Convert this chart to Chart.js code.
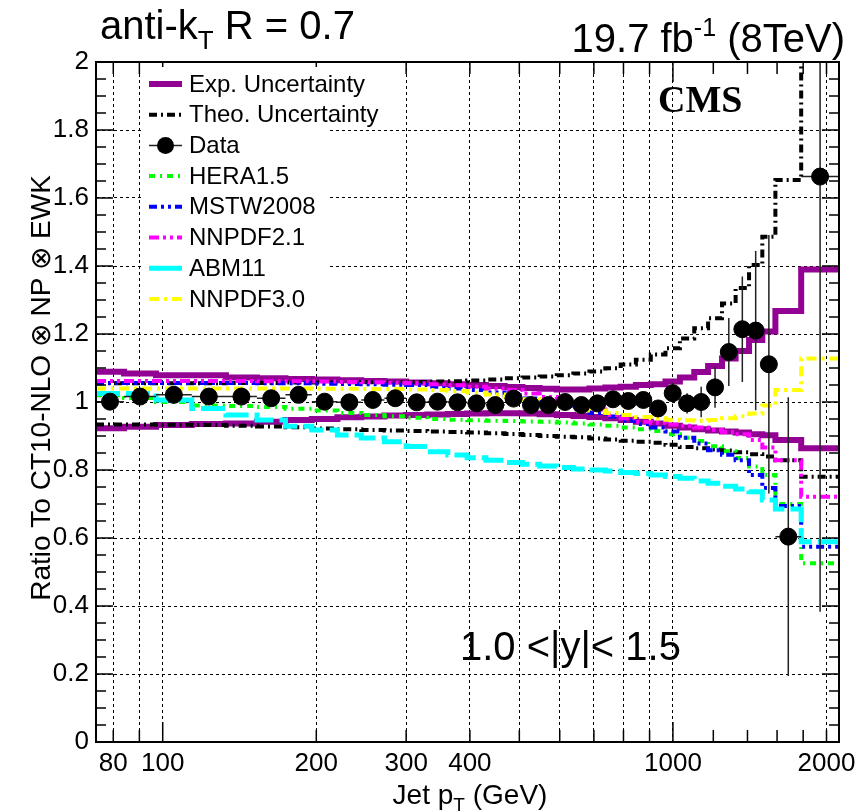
<!DOCTYPE html>
<html>
<head>
<meta charset="utf-8">
<title>Inclusive jet ratio to CT10</title>
<script src="https://cdn.jsdelivr.net/npm/chart.js@4.4.1/dist/chart.umd.min.js"></script>
<style>
  html, body { margin: 0; padding: 0; background: #fff; }
  canvas { display: block; }
</style>
</head>
<body>
<canvas id="ratio" width="865" height="812"></canvas>
<script>
// jet pT bin edges in GeV (last bins merged)
const binEdges = [74, 84, 97, 114, 133, 153, 174, 196, 220, 245, 272, 300, 330, 362, 395, 430,
  468, 507, 548, 592, 638, 686, 737, 790, 846, 905, 967, 1032, 1101, 1172, 1248, 1327, 1410,
  1497, 1588, 1784, 2116];

// measured ratio and its uncertainty, one value per bin
const dataRatio = [1.001, 1.016, 1.021, 1.016, 1.016, 1.011, 1.021, 1.001, 0.999, 1.006, 1.011,
  0.999, 1.001, 0.999, 0.996, 0.991, 1.010, 0.991, 0.991, 1.000, 0.991, 0.996, 1.008, 1.003,
  1.006, 0.981, 1.026, 0.996, 1.000, 1.043, 1.147, 1.214, 1.210, 1.111, 0.604, 1.663];
const dataErr = [0.005, 0.005, 0.005, 0.005, 0.005, 0.005, 0.005, 0.005, 0.005, 0.005, 0.006,
  0.006, 0.006, 0.007, 0.007, 0.008, 0.008, 0.009, 0.010, 0.010, 0.011, 0.012, 0.013, 0.014,
  0.020, 0.025, 0.030, 0.030, 0.045, 0.060, 0.100, 0.155, 0.234, 0.380, 0.410, 1.280];

// experimental uncertainty band edges
const expUp = [1.089, 1.084, 1.079, 1.079, 1.072, 1.070, 1.068, 1.066, 1.064, 1.062, 1.060, 1.057,
  1.055, 1.052, 1.050, 1.047, 1.044, 1.041, 1.039, 1.037, 1.037, 1.040, 1.043, 1.045, 1.050,
  1.052, 1.060, 1.072, 1.088, 1.106, 1.128, 1.150, 1.182, 1.207, 1.268, 1.390];
const expDown = [0.923, 0.927, 0.932, 0.935, 0.937, 0.942, 0.947, 0.950, 0.955, 0.957, 0.960,
  0.962, 0.963, 0.965, 0.966, 0.967, 0.967, 0.966, 0.964, 0.962, 0.959, 0.956, 0.952, 0.947,
  0.942, 0.937, 0.930, 0.925, 0.920, 0.916, 0.913, 0.910, 0.905, 0.902, 0.888, 0.864];

// theory uncertainty band edges
const theoUp = [1.055, 1.055, 1.055, 1.055, 1.056, 1.056, 1.057, 1.057, 1.058, 1.058, 1.059,
  1.059, 1.060, 1.061, 1.063, 1.066, 1.070, 1.072, 1.075, 1.079, 1.084, 1.090, 1.099, 1.110,
  1.124, 1.140, 1.158, 1.187, 1.217, 1.246, 1.290, 1.335, 1.403, 1.486, 1.653, 2.500];
const theoDown = [0.934, 0.934, 0.933, 0.932, 0.930, 0.928, 0.926, 0.922, 0.920, 0.918, 0.916,
  0.915, 0.913, 0.912, 0.910, 0.908, 0.906, 0.903, 0.900, 0.898, 0.896, 0.893, 0.890, 0.886,
  0.883, 0.880, 0.874, 0.868, 0.864, 0.860, 0.857, 0.852, 0.846, 0.840, 0.829, 0.780];

// other PDF sets divided by CT10
const hera15 = [1.020, 1.012, 1.000, 0.990, 0.988, 0.985, 0.980, 0.975, 0.968, 0.962, 0.958,
  0.954, 0.950, 0.948, 0.946, 0.945, 0.944, 0.943, 0.942, 0.940, 0.937, 0.934, 0.930, 0.925,
  0.920, 0.915, 0.905, 0.895, 0.885, 0.870, 0.855, 0.835, 0.810, 0.785, 0.700, 0.526];
const mstw2008 = [1.056, 1.056, 1.056, 1.056, 1.056, 1.055, 1.055, 1.054, 1.053, 1.052, 1.051,
  1.050, 1.045, 1.040, 1.035, 1.028, 1.020, 1.010, 1.000, 0.990, 0.980, 0.968, 0.957, 0.945,
  0.935, 0.925, 0.913, 0.895, 0.878, 0.858, 0.845, 0.829, 0.785, 0.747, 0.694, 0.574];
const nnpdf21 = [1.062, 1.062, 1.062, 1.062, 1.062, 1.061, 1.061, 1.060, 1.059, 1.058, 1.057,
  1.055, 1.052, 1.049, 1.045, 1.040, 1.035, 1.025, 1.015, 1.005, 0.990, 0.978, 0.962, 0.952,
  0.942, 0.938, 0.934, 0.930, 0.925, 0.918, 0.912, 0.905, 0.888, 0.866, 0.829, 0.721];
const abm11 = [1.025, 1.025, 1.006, 0.981, 0.962, 0.947, 0.929, 0.918, 0.903, 0.894, 0.883,
  0.869, 0.854, 0.844, 0.836, 0.829, 0.822, 0.817, 0.812, 0.807, 0.803, 0.800, 0.797, 0.793,
  0.790, 0.785, 0.781, 0.776, 0.768, 0.761, 0.752, 0.744, 0.736, 0.712, 0.685, 0.589];
const nnpdf30 = [1.040, 1.040, 1.040, 1.040, 1.040, 1.040, 1.040, 1.039, 1.039, 1.038, 1.038,
  1.037, 1.035, 1.032, 1.028, 1.022, 1.015, 1.008, 1.000, 0.990, 0.982, 0.975, 0.968, 0.962,
  0.956, 0.952, 0.948, 0.946, 0.945, 0.947, 0.952, 0.958, 0.966, 0.990, 1.035, 1.128];

// axis ticks
const xTicks = [80, 90, 100, 200, 300, 400, 500, 600, 700, 800, 900, 1000, 1200, 1400, 1600, 1800, 2000];
const xTickText = ['80', '', '100', '200', '300', '400', '', '', '', '', '', '1000', '', '', '', '', '2000'];
const xGridAt = [80, 90, 100, 200, 300, 400, 500, 600, 700, 800, 900, 1000, 2000];
const xMajorTicks = [100, 1000];
const yLabelStep = 0.2;
const yMinorStep = 0.05;

const legendOrder = ['Exp. Uncertainty', 'Theo. Uncertainty', 'Data', 'HERA1.5', 'MSTW2008',
  'NNPDF2.1', 'ABM11', 'NNPDF3.0'];

const FONT = "'Liberation Sans', Arial, Helvetica, sans-serif";
const MARKER_R = 8.5;

const binCenter = i => Math.sqrt(binEdges[i] * binEdges[i + 1]);

// histogram outline: each bin becomes a flat segment from low to high edge
function stepPoints(values) {
  const pts = [];
  values.forEach((v, i) => {
    pts.push({ x: binEdges[i], y: v });
    pts.push({ x: binEdges[i + 1], y: v });
  });
  return pts;
}

function stepLine(label, values, color, width, dash, order) {
  return {
    label,
    data: stepPoints(values),
    borderColor: color,
    borderWidth: width,
    borderDash: dash,
    borderCapStyle: 'butt',
    borderJoinStyle: 'miter',
    pointRadius: 0,
    fill: false,
    tension: 0,
    clip: 0,
    order
  };
}

const datasets = [
  {
    type: 'scatter',
    label: 'Data',
    data: dataRatio.map((v, i) => ({ x: binCenter(i), y: v })),
    pointRadius: MARKER_R,
    pointBackgroundColor: '#000',
    pointBorderColor: '#000',
    showLine: false,
    clip: 0,
    order: 0
  },
  stepLine('NNPDF3.0', nnpdf30, '#ffff00', 4, [10, 5, 3, 5], 1),
  stepLine('ABM11', abm11, '#00ffff', 5, [24, 6], 2),
  stepLine('NNPDF2.1', nnpdf21, '#ff00ff', 4, [10, 4, 3, 4, 3, 4], 3),
  stepLine('MSTW2008', mstw2008, '#0000ff', 4, [8, 4, 3, 4, 3, 4], 4),
  stepLine('HERA1.5', hera15, '#00ff00', 4, [6, 5, 2, 5], 5),
  stepLine('Theo. Uncertainty', theoUp, '#000000', 4, [8, 4, 2, 4], 6),
  stepLine('Theo. Uncertainty (low)', theoDown, '#000000', 4, [8, 4, 2, 4], 6),
  stepLine('Exp. Uncertainty', expUp, '#930393', 6, [], 7),
  stepLine('Exp. Uncertainty (low)', expDown, '#930393', 6, [], 7)
];

// data error bars sit under the markers
const errorBars = {
  id: 'errorBars',
  beforeDatasetDraw(chart, args) {
    if (chart.data.datasets[args.index].label !== 'Data') return;
    const { ctx, chartArea: a, scales: { x, y } } = chart;
    ctx.save();
    ctx.beginPath();
    ctx.rect(a.left, a.top, a.right - a.left, a.bottom - a.top);
    ctx.clip();
    ctx.strokeStyle = '#222';
    ctx.lineWidth = 1.5;
    dataRatio.forEach((v, i) => {
      const px = x.getPixelForValue(binCenter(i));
      const py = y.getPixelForValue(v);
      ctx.beginPath();
      ctx.moveTo(x.getPixelForValue(binEdges[i]), py);
      ctx.lineTo(x.getPixelForValue(binEdges[i + 1]), py);
      ctx.moveTo(px, y.getPixelForValue(v - dataErr[i]));
      ctx.lineTo(px, y.getPixelForValue(v + dataErr[i]));
      ctx.stroke();
    });
    ctx.restore();
  }
};

// ROOT-like frame with inward ticks on all four sides
const frameTicks = {
  id: 'frameTicks',
  afterDatasetsDraw(chart) {
    const { ctx, chartArea: a, scales: { x, y } } = chart;
    ctx.save();
    ctx.strokeStyle = '#000';
    ctx.lineWidth = 1.5;
    ctx.beginPath();
    const nMinor = Math.round((y.max - y.min) / yMinorStep);
    const perMajor = Math.round(yLabelStep / yMinorStep);
    for (let k = 0; k <= nMinor; k++) {
      const py = y.getPixelForValue(y.min + k * yMinorStep);
      const len = k % perMajor === 0 ? 17 : 10;
      ctx.moveTo(a.left, py); ctx.lineTo(a.left + len, py);
      ctx.moveTo(a.right, py); ctx.lineTo(a.right - len, py);
    }
    xTicks.forEach(v => {
      const px = x.getPixelForValue(v);
      const len = xMajorTicks.includes(v) ? 20 : 12;
      ctx.moveTo(px, a.bottom); ctx.lineTo(px, a.bottom - len);
      ctx.moveTo(px, a.top); ctx.lineTo(px, a.top + len);
    });
    ctx.stroke();
    ctx.lineWidth = 2;
    ctx.strokeRect(a.left, a.top, a.right - a.left, a.bottom - a.top);
    ctx.restore();
  }
};

// draw a run of text pieces: [text, size, baseline shift]
function drawPieces(ctx, pieces, x, y, align) {
  const widths = pieces.map(([t, s]) => { ctx.font = `${s}px ${FONT}`; return ctx.measureText(t).width; });
  const total = widths.reduce((s, w) => s + w, 0);
  let cx = align === 'right' ? x - total : align === 'center' ? x - total / 2 : x;
  ctx.textAlign = 'left';
  ctx.textBaseline = 'alphabetic';
  pieces.forEach(([t, s, dy], i) => {
    ctx.font = `${s}px ${FONT}`;
    ctx.fillText(t, cx, y + dy);
    cx += widths[i];
  });
}

const annotations = {
  id: 'annotations',
  afterDraw(chart) {
    const { ctx } = chart;
    ctx.save();
    ctx.fillStyle = '#000';

    drawPieces(ctx, [['anti-k', 40, 0], ['T', 26, 10], [' R = 0.7', 40, 0]], 100, 39, 'left');
    drawPieces(ctx, [['19.7 fb', 40, 0], ['-1', 25, -16], [' (8TeV)', 40, 0]], 845, 52, 'right');
    drawPieces(ctx, [['Jet p', 28, 0], ['T', 19, 7], [' (GeV)', 28, 0]], 470, 804, 'center');

    ctx.save();
    ctx.translate(42, 388);
    ctx.rotate(-Math.PI / 2);
    ctx.font = `28px ${FONT}`;
    ctx.textAlign = 'center';
    ctx.textBaseline = 'middle';
    ctx.fillText('Ratio To CT10-NLO \u2297 NP \u2297 EWK', 0, 0);
    ctx.restore();

    ctx.font = "bold 38px 'Liberation Serif', 'Times New Roman', serif";
    ctx.textAlign = 'left';
    ctx.fillText('CMS', 658, 112);

    ctx.font = `40px ${FONT}`;
    ctx.fillText('1.0 <|y|< 1.5', 460, 660);

    // legend
    const box = { x: 143, y: 67, w: 187, h: 250 };
    ctx.fillStyle = '#fff';
    ctx.fillRect(box.x, box.y, box.w, box.h);
    const rowH = 30.7;
    legendOrder.forEach((name, i) => {
      const cy = 84 + i * rowH;
      const ds = chart.data.datasets.find(d => d.label === name);
      ctx.save();
      if (name === 'Data') {
        ctx.strokeStyle = '#222';
        ctx.lineWidth = 1.5;
        ctx.beginPath(); ctx.moveTo(149, cy); ctx.lineTo(182, cy); ctx.stroke();
        ctx.fillStyle = '#000';
        ctx.beginPath(); ctx.arc(165.5, cy, MARKER_R, 0, Math.PI * 2); ctx.fill();
      } else {
        ctx.strokeStyle = ds.borderColor;
        ctx.lineWidth = ds.borderWidth;
        ctx.setLineDash(name === 'ABM11' ? [] : ds.borderDash);
        ctx.beginPath(); ctx.moveTo(149, cy); ctx.lineTo(182, cy); ctx.stroke();
      }
      ctx.restore();
      ctx.fillStyle = '#000';
      ctx.font = `24px ${FONT}`;
      ctx.textBaseline = 'middle';
      ctx.fillText(name, 189, cy + 1);
    });
    ctx.restore();
  }
};

new Chart(document.getElementById('ratio'), {
  type: 'line',
  data: { datasets },
  options: {
    responsive: false,
    animation: false,
    events: [],
    layout: { padding: { top: 62, right: 26, left: 0, bottom: 0 } },
    plugins: { legend: { display: false }, tooltip: { enabled: false } },
    scales: {
      x: {
        type: 'logarithmic',
        min: 74,
        max: 2116,
        afterBuildTicks: s => { s.ticks = xTicks.map(v => ({ value: v })); },
        afterFit: s => { s.height = 70; },
        ticks: {
          autoSkip: false,
          maxRotation: 0,
          padding: 6,
          color: '#000',
          font: { family: FONT, size: 26 },
          callback: (v, i) => xTickText[i]
        },
        grid: {
          drawTicks: false,
          lineWidth: 1,
          color: c => (c.tick && xGridAt.includes(c.tick.value)) ? '#000' : 'rgba(0,0,0,0)'
        },
        border: { display: false, dash: [3, 3] }
      },
      y: {
        min: 0,
        max: 2,
        afterFit: s => { s.width = 96; },
        ticks: {
          stepSize: yLabelStep,
          padding: 7,
          color: '#000',
          font: { family: FONT, size: 26 },
          callback: v => String(Math.round(v * 10) / 10)
        },
        grid: { drawTicks: false, lineWidth: 1, color: '#000' },
        border: { display: false, dash: [3, 3] }
      }
    }
  },
  plugins: [errorBars, frameTicks, annotations]
});
</script>
</body>
</html>
